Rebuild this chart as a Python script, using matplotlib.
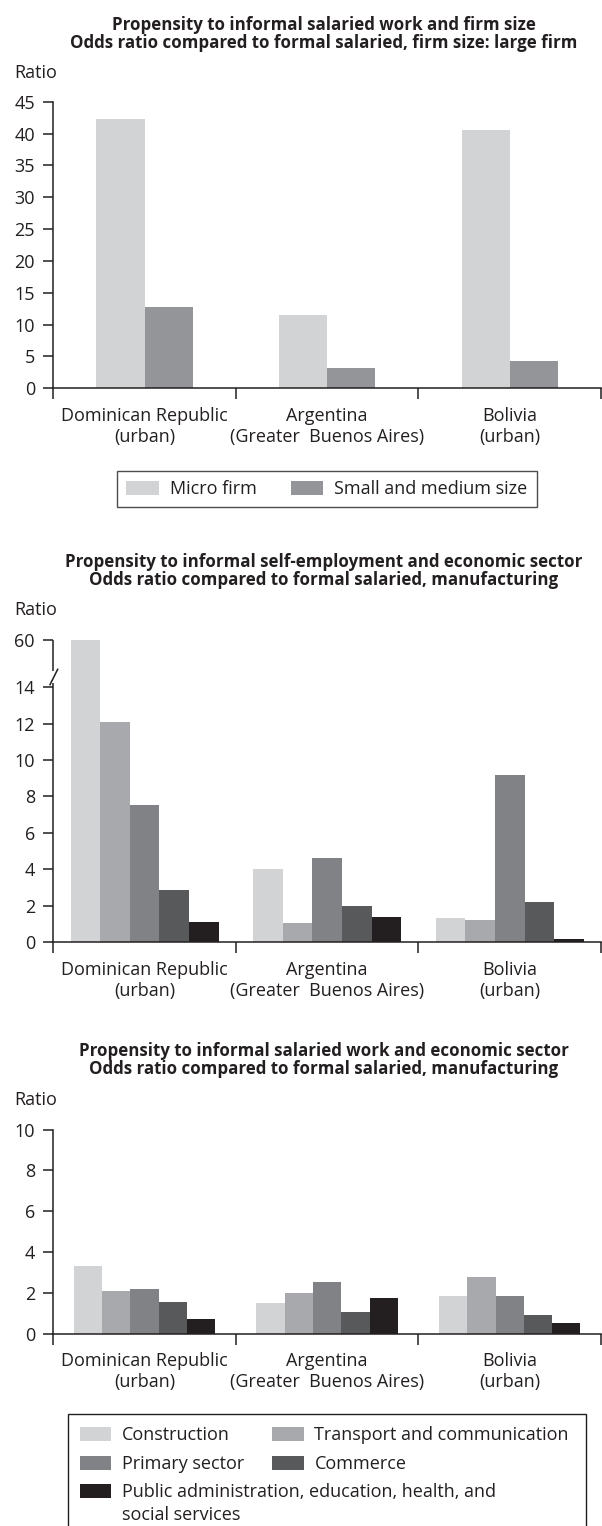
import matplotlib
matplotlib.use("Agg")
import matplotlib.pyplot as plt
import numpy as np
from matplotlib.patches import Rectangle

plt.rcParams['font.family'] = ['Open Sans', 'DejaVu Sans']
plt.rcParams['font.size'] = 13
plt.rcParams['text.color'] = '#231f20'
plt.rcParams['xtick.color'] = '#231f20'
plt.rcParams['ytick.color'] = '#231f20'

# --- data -------------------------------------------------------------
countries = ["Dominican Republic\n(urban)",
             "Argentina\n(Greater  Buenos Aires)",
             "Bolivia\n(urban)"]

firm_labels = ["Micro firm", "Small and medium size"]
firm_micro = [42.3, 11.5, 40.5]
firm_small = [12.7, 3.2, 4.3]

sector_labels = ["Construction", "Transport and communication", "Primary sector",
                 "Commerce", "Public administration, education, health, and"]
sector_extra_line = "social services"

# self-employment, odds ratio by sector (one list per sector, one value per country)
self_construction = [60.0, 4.0, 1.3]
self_transport = [12.1, 1.05, 1.2]
self_primary = [7.55, 4.6, 9.2]
self_commerce = [2.85, 1.98, 2.2]
self_public = [1.1, 1.38, 0.15]

# salaried work, odds ratio by sector
sal_construction = [3.33, 1.51, 1.85]
sal_transport = [2.1, 2.0, 2.79]
sal_primary = [2.2, 2.54, 1.85]
sal_commerce = [1.56, 1.07, 0.92]
sal_public = [0.72, 1.75, 0.52]

firm_colors = ['#d1d3d4', '#939598']
sector_colors = ['#d1d3d4', '#a7a9ac', '#808285', '#58595b', '#231f20']
INK = '#231f20'

W, H = 602, 1526


def fx(px):
    return px / W


def fy(py):
    return 1 - py / H


def make_axes(top, bottom):
    left, right = 53.3, 601
    return fig.add_axes([fx(left), fy(bottom), (right - left) / W, (bottom - top) / H])


def style_axes(ax, yticks):
    for side in ['top', 'right']:
        ax.spines[side].set_visible(False)
    for side in ['left', 'bottom']:
        ax.spines[side].set_color(INK)
        ax.spines[side].set_linewidth(1.1)
    ax.set_xlim(-0.5, 2.5)
    ax.set_xticks([-0.5, 0.5, 1.5, 2.5])
    ax.set_xticklabels([])
    ax.set_xticks([0, 1, 2], countries, minor=True)
    ax.tick_params(axis='x', which='major', direction='out', length=8, width=1.1)
    ax.tick_params(axis='x', which='minor', length=0, pad=13.5)
    for lbl in ax.get_xticklabels(minor=True):
        lbl.set_linespacing(1.2)
    ax.set_yticks(yticks)
    ax.tick_params(axis='y', direction='out', length=7.2, width=1.1, pad=6)


def grouped_bars(ax, series, colors, width, labels=None):
    x = np.arange(len(countries))
    n = len(series)
    bars = []
    for i, vals in enumerate(series):
        off = (i - (n - 1) / 2) * width
        lab = labels[i] if labels else None
        bars.append(ax.bar(x + off, vals, width, color=colors[i], label=lab,
                           linewidth=0))
    return bars


def panel_title(py, text):
    fig.text(fx(324), fy(py), text, ha='center', va='center',
             fontweight='bold', fontsize=12.2, linespacing=1.0)


fig = plt.figure(figsize=(W / 100, H / 100), dpi=100)

# --- firm size --------------------------------------------------------
panel_title(33.5, "Propensity to informal salaried work and firm size\n"
                  "Odds ratio compared to formal salaried, firm size: large firm")
fig.text(fx(14), fy(73), "Ratio", va='center', ha='left')
ax1 = make_axes(101.7, 388.3)
firm_bars = grouped_bars(ax1, [firm_micro, firm_small], firm_colors, 0.264, firm_labels)
ax1.set_ylim(0, 45)
style_axes(ax1, np.arange(0, 46, 5))

leg1 = fig.legend(handles=firm_bars, loc='center', bbox_to_anchor=(fx(327), fy(489.4)),
                  ncol=2, frameon=True, fancybox=False, edgecolor=INK,
                  borderpad=0.5, handlelength=1.8, handleheight=0.85,
                  handletextpad=0.6, columnspacing=1.9)
leg1.get_frame().set_linewidth(1.0)

# --- self-employment by sector (broken y axis above 14) -------------
BREAK_AT = 14
SQUEEZE = 2.6 / 46


def squash(v):
    v = np.asarray(v, dtype=float)
    return np.where(v <= BREAK_AT, v, BREAK_AT + (v - BREAK_AT) * SQUEEZE)


def unsquash(u):
    u = np.asarray(u, dtype=float)
    return np.where(u <= BREAK_AT, u, BREAK_AT + (u - BREAK_AT) / SQUEEZE)


panel_title(571, "Propensity to informal self-employment and economic sector\n"
                 "Odds ratio compared to formal salaried, manufacturing")
fig.text(fx(14), fy(610), "Ratio", va='center', ha='left')
ax2 = make_axes(640, 942)
ax2.set_yscale('function', functions=(squash, unsquash))
grouped_bars(ax2, [self_construction, self_transport, self_primary,
                   self_commerce, self_public], sector_colors, 0.162)
ax2.set_ylim(0, 60)
style_axes(ax2, [0, 2, 4, 6, 8, 10, 12, 14, 60])
ax2.yaxis.set_major_formatter(matplotlib.ticker.FormatStrFormatter('%d'))
ax2.yaxis.set_minor_locator(matplotlib.ticker.NullLocator())

# axis break drawn on the left spine
ax2.spines['left'].set_visible(False)
lo, hi = 0.858, 0.897
ax2.plot([0, 0], [0, lo], transform=ax2.transAxes, color=INK, lw=1.1,
         clip_on=False, solid_capstyle='butt')
ax2.plot([0, 0], [hi, 1], transform=ax2.transAxes, color=INK, lw=1.1,
         clip_on=False, solid_capstyle='butt')
ax2.plot([-0.006, 0.008], [lo - 0.006, hi + 0.006], transform=ax2.transAxes,
         color=INK, lw=1.1, clip_on=False)

# --- salaried work by sector ----------------------------------------
panel_title(1060.5, "Propensity to informal salaried work and economic sector\n"
                    "Odds ratio compared to formal salaried, manufacturing")
fig.text(fx(14), fy(1100), "Ratio", va='center', ha='left')
ax3 = make_axes(1129.6, 1333.7)
sector_bars = grouped_bars(ax3, [sal_construction, sal_transport, sal_primary,
                                 sal_commerce, sal_public], sector_colors, 0.155,
                           sector_labels)
ax3.set_ylim(0, 10)
style_axes(ax3, np.arange(0, 11, 2))

leg_kw = dict(frameon=False, borderpad=0, borderaxespad=0, handlelength=1.75,
              handleheight=0.8, handletextpad=0.6, labelspacing=0.6)
fig.legend(handles=[sector_bars[0], sector_bars[2]], loc='center left',
           bbox_to_anchor=(fx(79.5), fy(1449.5)), **leg_kw)
fig.legend(handles=[sector_bars[1], sector_bars[3]], loc='center left',
           bbox_to_anchor=(fx(272), fy(1449.5)), **leg_kw)
fig.legend(handles=[sector_bars[4]], loc='center left',
           bbox_to_anchor=(fx(79.5), fy(1492)), **leg_kw)
fig.text(fx(122), fy(1514.5), sector_extra_line, va='center', ha='left')
fig.add_artist(Rectangle((fx(68), fy(1530)), (586 - 68) / W, (1530 - 1414) / H,
                         transform=fig.transFigure, fill=False,
                         edgecolor=INK, linewidth=1.0))

fig.savefig("out.png", dpi=100)
